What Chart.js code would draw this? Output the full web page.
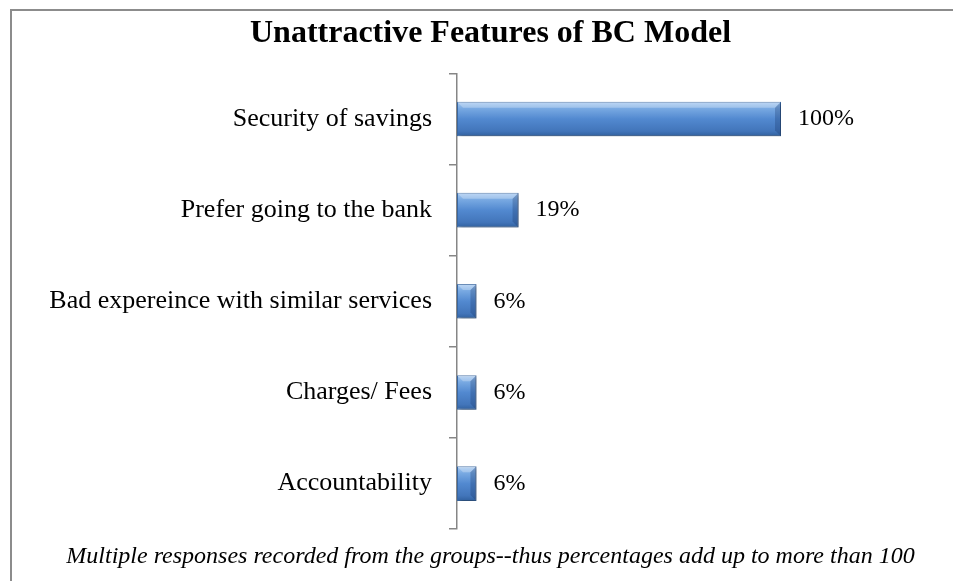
<!DOCTYPE html>
<html>
<head>
<meta charset="utf-8">
<script src="https://cdn.jsdelivr.net/npm/chart.js@4"></script>
<style>
  html, body { margin: 0; padding: 0; background: #fff; }
  #wrap { position: relative; width: 953px; height: 581px; overflow: hidden; }
  #frame {
    position: absolute; left: 10px; top: 9px; width: 1000px; height: 700px;
    border: 2px solid #8c8c8c; pointer-events: none;
  }
  canvas { position: absolute; left: 0; top: 0; }
</style>
</head>
<body>
<div id="wrap">
  <canvas id="featuresChart" width="953" height="581"></canvas>
  <div id="frame"></div>
</div>
<script>
const categories = [
  'Security of savings',
  'Prefer going to the bank',
  'Bad expereince with similar services',
  'Charges/ Fees',
  'Accountability'
];
const shares = [100, 19, 6, 6, 6];

const titleText = 'Unattractive Features of BC Model';
const noteText = 'Multiple responses recorded from the groups--thus percentages add up to more than 100';

const serif = '"Liberation Serif", "Times New Roman", serif';
const BAR_PCT = 0.38;

// vertical gradient for each bar, built from the bar's own slot on the y scale
const barFill = (ctx) => {
  const chart = ctx.chart;
  const y = chart.scales && chart.scales.y;
  if (!chart.chartArea || !y || ctx.dataIndex === undefined) return '#4f86cc';
  const cy = y.getPixelForValue(ctx.dataIndex);
  const half = (y.getPixelForValue(1) - y.getPixelForValue(0)) * BAR_PCT / 2;
  const g = chart.ctx.createLinearGradient(0, cy - half, 0, cy + half);
  g.addColorStop(0, '#a9cbf2');
  g.addColorStop(0.2, '#78a9e2');
  g.addColorStop(0.5, '#5289d0');
  g.addColorStop(0.85, '#4275ba');
  g.addColorStop(1, '#30609e');
  return g;
};

// soft drop shadow under the bars
const barShadow = {
  id: 'barShadow',
  beforeDatasetsDraw(chart) {
    const c = chart.ctx;
    c.save();
    c.shadowColor = 'rgba(0,0,0,0.35)';
    c.shadowBlur = 4;
    c.shadowOffsetX = 2;
    c.shadowOffsetY = 2;
  },
  afterDatasetsDraw(chart) {
    chart.ctx.restore();
  }
};

// bevelled edges + percentage labels
const bevelAndLabels = {
  id: 'bevelAndLabels',
  afterDatasetsDraw(chart) {
    const c = chart.ctx;
    const meta = chart.getDatasetMeta(0);
    c.save();
    meta.data.forEach((bar, i) => {
      const top = bar.y - bar.height / 2;
      const bottom = bar.y + bar.height / 2;
      const left = bar.base;
      const right = bar.x;
      const b = Math.min(6, (right - left) / 2);

      // right end, darker
      c.fillStyle = 'rgba(20,50,100,0.28)';
      c.beginPath();
      c.moveTo(right, top);
      c.lineTo(right, bottom);
      c.lineTo(right - b, bottom - b);
      c.lineTo(right - b, top + b);
      c.closePath();
      c.fill();

      // top edge, lighter
      c.fillStyle = 'rgba(255,255,255,0.25)';
      c.beginPath();
      c.moveTo(left, top);
      c.lineTo(right, top);
      c.lineTo(right - b, top + b);
      c.lineTo(left + b, top + b);
      c.closePath();
      c.fill();

      c.fillStyle = '#000';
      c.font = '24px ' + serif;
      c.textAlign = 'left';
      c.textBaseline = 'middle';
      c.fillText(shares[i] + '%', right + 17, bar.y);
    });
    c.restore();
  }
};

new Chart(document.getElementById('featuresChart'), {
  type: 'bar',
  data: {
    labels: categories,
    datasets: [{
      data: shares,
      backgroundColor: barFill,
      borderColor: '#3b6aa6',
      borderWidth: 1,
      borderSkipped: false,
      categoryPercentage: 1,
      barPercentage: BAR_PCT
    }]
  },
  options: {
    indexAxis: 'y',
    responsive: false,
    animation: false,
    layout: { padding: { left: 38, right: 10, top: 0, bottom: 0 } },
    scales: {
      x: {
        display: false,
        min: 0,
        max: 150
      },
      y: {
        afterFit(scale) { scale.width = 419; },
        border: { display: true, color: '#868686', width: 1.5 },
        grid: {
          drawOnChartArea: false,
          drawTicks: true,
          tickLength: 8,
          offset: true,
          color: '#868686',
          lineWidth: 1.5
        },
        ticks: {
          color: '#000',
          padding: 17,
          font: { family: serif, size: 26 }
        }
      }
    },
    plugins: {
      legend: { display: false },
      tooltip: { enabled: false },
      title: {
        display: true,
        text: titleText,
        color: '#000',
        font: { family: serif, size: 32, weight: 'bold', lineHeight: 1.2 },
        padding: { top: 15, bottom: 20 }
      },
      subtitle: {
        display: true,
        position: 'bottom',
        text: noteText,
        color: '#000',
        font: { family: serif, size: 24, style: 'italic', lineHeight: 1.2 },
        padding: { top: 13, bottom: 10 }
      }
    }
  },
  plugins: [barShadow, bevelAndLabels]
});
</script>
</body>
</html>
